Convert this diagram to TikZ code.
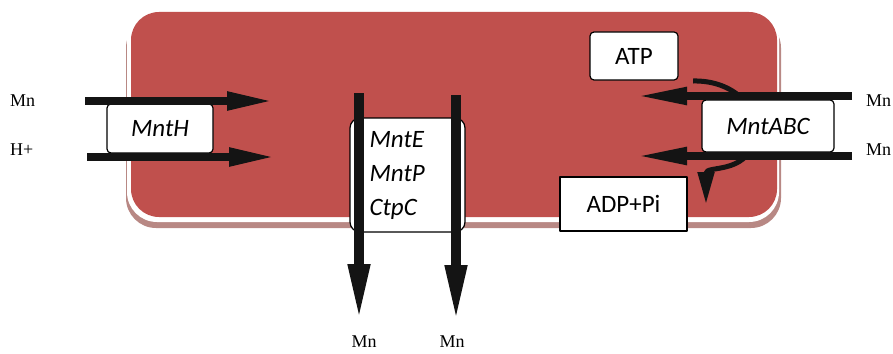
\documentclass[tikz,border=0pt]{standalone}
\usepackage{fontspec}
\setmainfont{Carlito}
\newfontfamily\ionfont{Liberation Serif}
\usetikzlibrary{arrows.meta}
\definecolor{cellred}{HTML}{C0504D}
\definecolor{cellshade}{HTML}{B88884}
\definecolor{barblack}{HTML}{141414}

\begin{document}
\begin{tikzpicture}[x=1pt,y=-1pt,line join=round,
  prot/.style={draw,line width=1.2pt,fill=white,rounded corners=4pt,inner sep=0pt,
    font=\fontsize{25}{30}\selectfont\itshape},
  energy/.style={prot,rounded corners=0pt,font=\fontsize{25}{30}\selectfont},
  ion/.style={inner sep=0pt,font=\ionfont\fontsize{18}{20}\selectfont},
  harrow/.style={draw=barblack,line width=8pt,-{Triangle[length=47pt,width=17pt]}},
  varrow/.style={draw=barblack,line width=10pt,-{Triangle[length=58pt,width=20pt]}},
  turn/.style={draw=barblack,line width=5pt,-{Triangle[length=32pt,width=16pt]}}]
 \useasboundingbox (0,0) rectangle (893,353);
 % cell
 \fill[cellshade,rounded corners=30pt] (126,18) rectangle (781,228);
 \fill[white,rounded corners=30pt] (127,10) rectangle (779,222);
 \fill[cellred,rounded corners=28pt] (131,12) rectangle (777,217);
 % ATP hydrolysis
 \draw[turn] (693,81) .. controls (735,80) and (762,110) .. (755,140)
  .. controls (745,175) and (706,165) .. (706,204);
 % transporters
 \node[prot,minimum width=106pt,minimum height=49pt] (mnth) at (160,128.5) {MntH};
 \node[prot,rounded corners=10pt,minimum width=115pt,minimum height=114pt,
  text width=76pt,align=left,font=\fontsize{25}{34}\selectfont\itshape] (mnte) at (407.5,175)
  {\raisebox{-6pt}{MntE}\\\raisebox{-6pt}{MntP}\\\raisebox{-6pt}{CtpC}};
 \node[prot,minimum width=132pt,minimum height=52pt] (mntabc) at (768,126) {MntABC};
 \node[prot,font=\fontsize{25}{30}\selectfont,minimum width=88pt,minimum height=48pt] (atp) at (634,56) {ATP};
 \node[energy,minimum width=127pt,minimum height=54pt] (adp) at (623.5,204) {ADP+Pi};
 % ions
 \node[ion,anchor=west] (mnin) at (10,101) {Mn};
 \node[ion,anchor=west] (hin) at (10,150) {H+};
 \node[ion] (mnout1) at (364,342) {Mn};
 \node[ion] (mnout2) at (452,342) {Mn};
 \node[ion,anchor=west] (mnabc1) at (866,100.5) {Mn};
 \node[ion,anchor=west] (mnabc2) at (866,149.5) {Mn};
 \coordinate (hmn1) at (85,101);
 \coordinate (hmn2) at (274,101);
 \coordinate (hh1) at (87,157);
 \coordinate (hh2) at (276,157);
 \coordinate (ve1) at (359,93);
 \coordinate (ve2) at (359,322);
 \coordinate (vp1) at (456,95);
 \coordinate (vp2) at (456,323);
 \coordinate (ab1) at (852,96);
 \coordinate (ab2) at (635,96);
 \coordinate (ac1) at (852,156);
 \coordinate (ac2) at (635,156);
 \draw[harrow] (hmn1) -- (hmn2);
 \draw[harrow] (hh1) -- (hh2);
 \draw[varrow] (ve1) -- (ve2);
 \draw[varrow] (vp1) -- (vp2);
 \draw[harrow,-{Triangle[length=52pt,width=16pt]}] (ab1) -- (ab2);
 \draw[harrow,-{Triangle[length=52pt,width=16pt]}] (ac1) -- (ac2);
\end{tikzpicture}
\end{document}
